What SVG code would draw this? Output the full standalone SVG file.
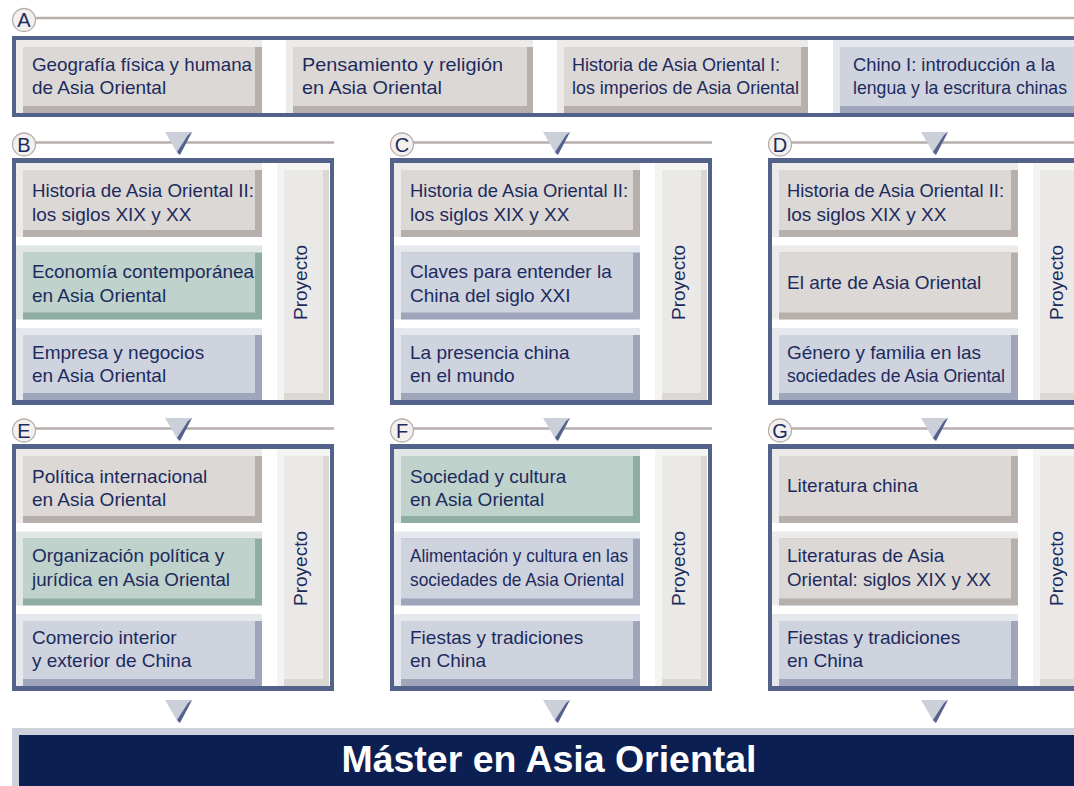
<svg xmlns="http://www.w3.org/2000/svg" width="1074" height="786" viewBox="0 0 1074 786">
<style>
text{font-family:"Liberation Sans",Arial,sans-serif;fill:#1c2b5e}
.t{font-size:19px}
.lt{font-size:20px;text-anchor:middle}
.pj{font-size:19px;text-anchor:middle}
.frame{fill:#52628a}
.inner{fill:#ffffff}
.beige .b{fill:#ecebe9}.beige .s{fill:#b7afab}.beige .f{fill:#dcd8d5}
.green .b{fill:#e0e7e5}.green .s{fill:#8fada1}.green .f{fill:#bfd2cb}
.blue .b{fill:#e5e8ed}.blue .s{fill:#9fa6bb}.blue .f{fill:#cfd3de}
.proj .b{fill:#f4f4f3}.proj .s{fill:#dbd7d3}.proj .f{fill:#ebe9e7}
.ln{stroke:#b6afab;stroke-width:2.5;fill:none}
.circ{fill:#f3f0ee;stroke:#b6afab;stroke-width:1.3}
.tri{fill:#cbcfda}
.trid{fill:#52628a}
</style>

<!-- Section A -->
<g id="sectionA">
<rect class="frame" x="12" y="36" width="1100" height="81"/>
<rect class="inner" x="16" y="40" width="1100" height="73"/>
</g>
<g id="A1" class="beige">
<rect class="b" x="16" y="40" width="246" height="73"/><rect class="s" x="23" y="47" width="239" height="66"/><rect class="f" x="23" y="47" width="232" height="59"/>
<text class="t"><tspan x="32" y="70.5" textLength="220" lengthAdjust="spacingAndGlyphs">Geografía física y humana</tspan><tspan x="32" y="94">de Asia Oriental</tspan></text>
</g>
<g id="A2" class="beige">
<rect class="b" x="286" y="40" width="247" height="73"/><rect class="s" x="293" y="47" width="240" height="66"/><rect class="f" x="293" y="47" width="234" height="59"/>
<text class="t"><tspan x="302" y="70.5" textLength="201" lengthAdjust="spacingAndGlyphs">Pensamiento y religión</tspan><tspan x="302" y="94" textLength="140" lengthAdjust="spacingAndGlyphs">en Asia Oriental</tspan></text>
</g>
<g id="A3" class="beige">
<rect class="b" x="557" y="40" width="251" height="73"/><rect class="s" x="564" y="47" width="244" height="66"/><rect class="f" x="564" y="47" width="237" height="59"/>
<text class="t"><tspan x="572" y="70.5" textLength="208" lengthAdjust="spacingAndGlyphs">Historia de Asia Oriental I:</tspan><tspan x="572" y="94" textLength="227" lengthAdjust="spacingAndGlyphs">los imperios de Asia Oriental</tspan></text>
</g>
<g id="A4" class="blue">
<rect class="b" x="833" y="40" width="260" height="73"/><rect class="s" x="840" y="47" width="253" height="66"/><rect class="f" x="840" y="47" width="246" height="59"/>
<text class="t"><tspan x="853" y="70.5" textLength="202" lengthAdjust="spacingAndGlyphs">Chino I: introducción a la</tspan><tspan x="853" y="94" textLength="214" lengthAdjust="spacingAndGlyphs">lengua y la escritura chinas</tspan></text>
</g>

<!-- Section frames -->
<g id="sectionB"><rect class="frame" x="12" y="158" width="322" height="247"/><rect class="inner" x="16" y="163" width="314" height="237"/></g>
<g id="sectionC"><rect class="frame" x="390" y="158" width="322" height="247"/><rect class="inner" x="394" y="163" width="314" height="237"/></g>
<g id="sectionD"><rect class="frame" x="768" y="158" width="322" height="247"/><rect class="inner" x="772" y="163" width="314" height="237"/></g>
<g id="sectionE"><rect class="frame" x="12" y="444" width="322" height="247"/><rect class="inner" x="16" y="449" width="314" height="237"/></g>
<g id="sectionF"><rect class="frame" x="390" y="444" width="322" height="247"/><rect class="inner" x="394" y="449" width="314" height="237"/></g>
<g id="sectionG"><rect class="frame" x="768" y="444" width="322" height="247"/><rect class="inner" x="772" y="449" width="314" height="237"/></g>

<!-- B cards -->
<g id="B1" class="beige">
<rect class="b" x="16" y="163" width="246" height="74"/><rect class="s" x="23" y="170" width="239" height="67"/><rect class="f" x="23" y="170" width="232" height="60"/>
<text class="t"><tspan x="32" y="197" textLength="222" lengthAdjust="spacingAndGlyphs">Historia de Asia Oriental II:</tspan><tspan x="32" y="220.5">los siglos XIX y XX</tspan></text>
</g>
<g id="B2" class="green">
<rect class="b" x="16" y="245.5" width="246" height="74"/><rect class="s" x="23" y="252.5" width="239" height="67"/><rect class="f" x="23" y="252.5" width="232" height="60"/>
<text class="t"><tspan x="32" y="278" textLength="222" lengthAdjust="spacingAndGlyphs">Economía contemporánea</tspan><tspan x="32" y="301.5">en Asia Oriental</tspan></text>
</g>
<g id="B3" class="blue">
<rect class="b" x="16" y="328" width="246" height="72"/><rect class="s" x="23" y="335" width="239" height="65"/><rect class="f" x="23" y="335" width="232" height="58"/>
<text class="t"><tspan x="32" y="359">Empresa y negocios</tspan><tspan x="32" y="382">en Asia Oriental</tspan></text>
</g>
<g id="BP" class="proj">
<rect class="b" x="277" y="163" width="52" height="237"/><rect class="s" x="284" y="170" width="45" height="230"/><rect class="f" x="284" y="170" width="39" height="223"/>
<text class="pj" transform="translate(307 282.5) rotate(-90)">Proyecto</text>
</g>

<!-- C cards -->
<g id="C1" class="beige">
<rect class="b" x="394" y="163" width="246" height="74"/><rect class="s" x="401" y="170" width="239" height="67"/><rect class="f" x="401" y="170" width="232" height="60"/>
<text class="t"><tspan x="410" y="197" textLength="218" lengthAdjust="spacingAndGlyphs">Historia de Asia Oriental II:</tspan><tspan x="410" y="220.5">los siglos XIX y XX</tspan></text>
</g>
<g id="C2" class="blue">
<rect class="b" x="394" y="245.5" width="246" height="74"/><rect class="s" x="401" y="252.5" width="239" height="67"/><rect class="f" x="401" y="252.5" width="232" height="60"/>
<text class="t"><tspan x="410" y="278">Claves para entender la</tspan><tspan x="410" y="301.5">China del siglo XXI</tspan></text>
</g>
<g id="C3" class="blue">
<rect class="b" x="394" y="328" width="246" height="72"/><rect class="s" x="401" y="335" width="239" height="65"/><rect class="f" x="401" y="335" width="232" height="58"/>
<text class="t"><tspan x="410" y="359">La presencia china</tspan><tspan x="410" y="382">en el mundo</tspan></text>
</g>
<g id="CP" class="proj">
<rect class="b" x="655" y="163" width="52" height="237"/><rect class="s" x="662" y="170" width="45" height="230"/><rect class="f" x="662" y="170" width="39" height="223"/>
<text class="pj" transform="translate(685 282.5) rotate(-90)">Proyecto</text>
</g>

<!-- D cards -->
<g id="D1" class="beige">
<rect class="b" x="772" y="163" width="246" height="74"/><rect class="s" x="779" y="170" width="239" height="67"/><rect class="f" x="779" y="170" width="232" height="60"/>
<text class="t"><tspan x="787" y="197" textLength="217" lengthAdjust="spacingAndGlyphs">Historia de Asia Oriental II:</tspan><tspan x="787" y="220.5">los siglos XIX y XX</tspan></text>
</g>
<g id="D2" class="beige">
<rect class="b" x="772" y="245.5" width="246" height="74"/><rect class="s" x="779" y="252.5" width="239" height="67"/><rect class="f" x="779" y="252.5" width="232" height="60"/>
<text class="t"><tspan x="787" y="289">El arte de Asia Oriental</tspan></text>
</g>
<g id="D3" class="blue">
<rect class="b" x="772" y="328" width="246" height="72"/><rect class="s" x="779" y="335" width="239" height="65"/><rect class="f" x="779" y="335" width="232" height="58"/>
<text class="t"><tspan x="787" y="359" textLength="194" lengthAdjust="spacingAndGlyphs">Género y familia en las</tspan><tspan x="787" y="382" textLength="218" lengthAdjust="spacingAndGlyphs">sociedades de Asia Oriental</tspan></text>
</g>
<g id="DP" class="proj">
<rect class="b" x="1033" y="163" width="52" height="237"/><rect class="s" x="1040" y="170" width="45" height="230"/><rect class="f" x="1040" y="170" width="39" height="223"/>
<text class="pj" transform="translate(1063 282.5) rotate(-90)">Proyecto</text>
</g>

<!-- E cards -->
<g id="E1" class="beige">
<rect class="b" x="16" y="449" width="246" height="74"/><rect class="s" x="23" y="456" width="239" height="67"/><rect class="f" x="23" y="456" width="232" height="60"/>
<text class="t"><tspan x="32" y="483">Política internacional</tspan><tspan x="32" y="506">en Asia Oriental</tspan></text>
</g>
<g id="E2" class="green">
<rect class="b" x="16" y="531.5" width="246" height="74"/><rect class="s" x="23" y="538.5" width="239" height="67"/><rect class="f" x="23" y="538.5" width="232" height="60"/>
<text class="t"><tspan x="32" y="562">Organización política y</tspan><tspan x="32" y="585.5" textLength="198" lengthAdjust="spacingAndGlyphs">jurídica en Asia Oriental</tspan></text>
</g>
<g id="E3" class="blue">
<rect class="b" x="16" y="614" width="246" height="72"/><rect class="s" x="23" y="621" width="239" height="65"/><rect class="f" x="23" y="621" width="232" height="58"/>
<text class="t"><tspan x="32" y="644">Comercio interior</tspan><tspan x="32" y="667">y exterior de China</tspan></text>
</g>
<g id="EP" class="proj">
<rect class="b" x="277" y="449" width="52" height="237"/><rect class="s" x="284" y="456" width="45" height="230"/><rect class="f" x="284" y="456" width="39" height="223"/>
<text class="pj" transform="translate(307 568.5) rotate(-90)">Proyecto</text>
</g>

<!-- F cards -->
<g id="F1" class="green">
<rect class="b" x="394" y="449" width="246" height="74"/><rect class="s" x="401" y="456" width="239" height="67"/><rect class="f" x="401" y="456" width="232" height="60"/>
<text class="t"><tspan x="410" y="483">Sociedad y cultura</tspan><tspan x="410" y="506">en Asia Oriental</tspan></text>
</g>
<g id="F2" class="blue">
<rect class="b" x="394" y="531.5" width="246" height="74"/><rect class="s" x="401" y="538.5" width="239" height="67"/><rect class="f" x="401" y="538.5" width="232" height="60"/>
<text class="t"><tspan x="410" y="562" textLength="218" lengthAdjust="spacingAndGlyphs">Alimentación y cultura en las</tspan><tspan x="410" y="585.5" textLength="214" lengthAdjust="spacingAndGlyphs">sociedades de Asia Oriental</tspan></text>
</g>
<g id="F3" class="blue">
<rect class="b" x="394" y="614" width="246" height="72"/><rect class="s" x="401" y="621" width="239" height="65"/><rect class="f" x="401" y="621" width="232" height="58"/>
<text class="t"><tspan x="410" y="644">Fiestas y tradiciones</tspan><tspan x="410" y="667">en China</tspan></text>
</g>
<g id="FP" class="proj">
<rect class="b" x="655" y="449" width="52" height="237"/><rect class="s" x="662" y="456" width="45" height="230"/><rect class="f" x="662" y="456" width="39" height="223"/>
<text class="pj" transform="translate(685 568.5) rotate(-90)">Proyecto</text>
</g>

<!-- G cards -->
<g id="G1" class="beige">
<rect class="b" x="772" y="449" width="246" height="74"/><rect class="s" x="779" y="456" width="239" height="67"/><rect class="f" x="779" y="456" width="232" height="60"/>
<text class="t"><tspan x="787" y="491.5">Literatura china</tspan></text>
</g>
<g id="G2" class="beige">
<rect class="b" x="772" y="531.5" width="246" height="74"/><rect class="s" x="779" y="538.5" width="239" height="67"/><rect class="f" x="779" y="538.5" width="232" height="60"/>
<text class="t"><tspan x="787" y="562">Literaturas de Asia</tspan><tspan x="787" y="585.5" textLength="204" lengthAdjust="spacingAndGlyphs">Oriental: siglos XIX y XX</tspan></text>
</g>
<g id="G3" class="blue">
<rect class="b" x="772" y="614" width="246" height="72"/><rect class="s" x="779" y="621" width="239" height="65"/><rect class="f" x="779" y="621" width="232" height="58"/>
<text class="t"><tspan x="787" y="644">Fiestas y tradiciones</tspan><tspan x="787" y="667">en China</tspan></text>
</g>
<g id="GP" class="proj">
<rect class="b" x="1033" y="449" width="52" height="237"/><rect class="s" x="1040" y="456" width="45" height="230"/><rect class="f" x="1040" y="456" width="39" height="223"/>
<text class="pj" transform="translate(1063 568.5) rotate(-90)">Proyecto</text>
</g>

<!-- Connectors: header lines and arrow triangles -->
<g id="connectors">
<line class="ln" x1="35" y1="18" x2="1074" y2="18"/>
<line class="ln" x1="35" y1="142.5" x2="334" y2="142.5"/>
<line class="ln" x1="413" y1="142.5" x2="712" y2="142.5"/>
<line class="ln" x1="791" y1="142.5" x2="1074" y2="142.5"/>
<line class="ln" x1="35" y1="428.5" x2="334" y2="428.5"/>
<line class="ln" x1="413" y1="428.5" x2="712" y2="428.5"/>
<line class="ln" x1="791" y1="428.5" x2="1074" y2="428.5"/>

<polygon class="tri" points="165,132 192,132 178.5,155"/><polygon class="trid" points="188,135 192,132 180,155 177,152"/>
<polygon class="tri" points="543,132 570,132 556.5,155"/><polygon class="trid" points="566,135 570,132 558,155 555,152"/>
<polygon class="tri" points="921,132 948,132 934.5,155"/><polygon class="trid" points="944,135 948,132 936,155 933,152"/>
<polygon class="tri" points="165,418 192,418 178.5,441"/><polygon class="trid" points="188,421 192,418 180,441 177,438"/>
<polygon class="tri" points="543,418 570,418 556.5,441"/><polygon class="trid" points="566,421 570,418 558,441 555,438"/>
<polygon class="tri" points="921,418 948,418 934.5,441"/><polygon class="trid" points="944,421 948,418 936,441 933,438"/>
<polygon class="tri" points="165,700 192,700 178.5,723"/><polygon class="trid" points="188,703 192,700 180,723 177,720"/>
<polygon class="tri" points="543,700 570,700 556.5,723"/><polygon class="trid" points="566,703 570,700 558,723 555,720"/>
<polygon class="tri" points="921,700 948,700 934.5,723"/><polygon class="trid" points="944,703 948,700 936,723 933,720"/>
</g>

<!-- Letter badges -->
<g id="labelA"><circle class="circ" cx="24" cy="20" r="11.5"/><text class="lt" x="24" y="27">A</text></g>
<g id="labelB"><circle class="circ" cx="24" cy="144.5" r="11.5"/><text class="lt" x="24" y="151.5">B</text></g>
<g id="labelC"><circle class="circ" cx="402" cy="144.5" r="11.5"/><text class="lt" x="402" y="151.5">C</text></g>
<g id="labelD"><circle class="circ" cx="780" cy="144.5" r="11.5"/><text class="lt" x="780" y="151.5">D</text></g>
<g id="labelE"><circle class="circ" cx="24" cy="430.5" r="11.5"/><text class="lt" x="24" y="437.5">E</text></g>
<g id="labelF"><circle class="circ" cx="402" cy="430.5" r="11.5"/><text class="lt" x="402" y="437.5">F</text></g>
<g id="labelG"><circle class="circ" cx="780" cy="430.5" r="11.5"/><text class="lt" x="780" y="437.5">G</text></g>

<!-- Master banner -->
<g id="master">
<rect x="12" y="728" width="1070" height="60" fill="#cdd1dc"/>
<rect x="19" y="735" width="1060" height="55" fill="#0b1f52"/>
<text x="549" y="772" text-anchor="middle" font-size="36" font-weight="bold" style="fill:#ffffff" textLength="415" lengthAdjust="spacingAndGlyphs">Máster en Asia Oriental</text>
</g>
</svg>
